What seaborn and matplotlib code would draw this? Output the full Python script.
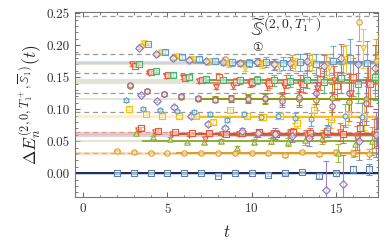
import numpy as np
import pandas as pd
import seaborn as sns
import matplotlib.pyplot as plt
from matplotlib.ticker import MultipleLocator, FormatStrFormatter

sns.set_theme(style='ticks')
plt.rcParams['font.family'] = ['cmr10', 'DejaVu Sans']
plt.rcParams['mathtext.fontset'] = 'cm'
plt.rcParams['axes.formatter.use_mathtext'] = True

# time slices
t_long = list(range(2, 18))
t_main = list(range(3, 18))
t_late = list(range(4, 18))

# typical error bars per time slice (t = 2..17)
err_low = [0.001, 0.001, 0.001, 0.001, 0.001, 0.001, 0.001, 0.001, 0.001, 0.002, 0.002, 0.002, 0.003, 0.004, 0.006, 0.008]
err_mid = [0.002, 0.002, 0.002, 0.002, 0.002, 0.003, 0.003, 0.003, 0.004, 0.005, 0.006, 0.008, 0.010, 0.014, 0.018, 0.022]
err_high = [0.002, 0.002, 0.002, 0.003, 0.003, 0.003, 0.004, 0.005, 0.006, 0.008, 0.010, 0.013, 0.017, 0.022, 0.030, 0.035]
err_purple = [0.002, 0.002, 0.002, 0.003, 0.003, 0.003, 0.004, 0.005, 0.006, 0.008, 0.010, 0.013, 0.045, 0.045, 0.030, 0.035]

# effective energies per operator
blue_sq = [0.000, 0.000, 0.000, 0.000, 0.000, 0.000, -0.004, 0.000, 0.000, -0.002, 0.000, 0.002, -0.004, 0.000, 0.006, 0.006]
orange_o = [0.035, 0.033, 0.032, 0.031, 0.031, 0.031, 0.032, 0.031, 0.031, 0.031, 0.028, 0.033, 0.030, 0.033, 0.031, 0.030]
green_tri = [0.063, 0.056, 0.054, 0.049, 0.049, 0.050, 0.040, 0.049, 0.050, 0.049, 0.052, 0.055, 0.031, 0.045, 0.050]
red_tri = [0.067, 0.065, 0.062, 0.060, 0.054, 0.062, 0.061, 0.060, 0.062, 0.063, 0.060, 0.058, 0.064, 0.055, 0.062]
red_sq = [0.070, 0.066, 0.064, 0.063, 0.063, 0.062, 0.063, 0.064, 0.062, 0.064, 0.063, 0.066, 0.061, 0.070, 0.064]
purple_d = [0.122, 0.113, 0.104, 0.090, 0.077, 0.070, 0.066, 0.063, 0.062, 0.058, 0.055, -0.026, -0.017, 0.050, 0.060]
yellow_sq = [0.101, 0.093, 0.090, 0.089, 0.090, 0.080, 0.098, 0.090, 0.088, 0.090, 0.078, 0.098, 0.085, 0.093, 0.090]
lblue_h = [0.114, 0.101, 0.099, 0.097, 0.095, 0.093, 0.083, 0.092, 0.088, 0.090, 0.086, 0.084, 0.070, 0.090, 0.088]
olive_o = [0.137, 0.128, 0.124, 0.119, 0.116, 0.116, 0.116, 0.117, 0.116, 0.117, 0.116, 0.115, 0.118, 0.112, 0.116]
magenta_o = [0.138, 0.129, 0.123, 0.120, 0.117, 0.115, 0.117, 0.116, 0.118, 0.113, 0.119, 0.125, 0.105, 0.125, 0.110]
red2_tri = [0.170, 0.157, 0.152, 0.150, 0.144, 0.135, 0.137, 0.140, 0.138, 0.136, 0.140, 0.133, 0.145, 0.125, 0.140]
red2_sq = [0.168, 0.158, 0.153, 0.149, 0.146, 0.151, 0.143, 0.142, 0.141, 0.143, 0.140, 0.147, 0.136, 0.150, 0.140]
green_sq = [0.171, 0.160, 0.154, 0.150, 0.147, 0.146, 0.145, 0.146, 0.145, 0.144, 0.146, 0.143, 0.148, 0.140, 0.150]
orange2_o = [0.1985, 0.187, 0.182, 0.178, 0.174, 0.178, 0.172, 0.173, 0.171, 0.174, 0.172, 0.170, 0.176, 0.237, 0.175]
purple2_d = [0.196, 0.186, 0.180, 0.177, 0.175, 0.173, 0.172, 0.174, 0.170, 0.172, 0.175, 0.168, 0.180, 0.170, 0.165]
yellow_tri = [0.204, 0.190, 0.183, 0.179, 0.176, 0.170, 0.165, 0.171, 0.167, 0.170, 0.174, 0.165, 0.178, 0.195, 0.180]
lblue_sq = [0.202, 0.189, 0.181, 0.178, 0.175, 0.173, 0.172, 0.174, 0.172, 0.173, 0.170, 0.176, 0.180, 0.172]

# non-interacting levels (dashed) and fitted energies (solid)
free_levels = [0.032, 0.064, 0.095, 0.126, 0.157, 0.187, 0.245]
fit_levels = [0.000, 0.031, 0.050, 0.059, 0.062, 0.0886, 0.116, 0.141, 0.145, 0.1715, 0.173]
fit_start = [-0.5, 5.5, 3.5, 8.0, 5.5, 6.5, 6.8, 7.0, 7.0, 6.5, 6.5]

# style: (data, times, errors, colour, marker, offset)
series = [
    (blue_sq, t_long, err_low, '#5E81B5', 's', 0.0),
    (orange_o, t_long, err_low, '#E19C24', 'o', 0.0),
    (green_tri, t_main, err_mid, '#8FB032', '^', 0.15),
    (red_tri, t_main, err_mid, '#EB6235', 'v', 0.25),
    (red_sq, t_main, err_mid, '#E95536', 's', 0.45),
    (purple_d, t_main, err_purple, '#8778B3', 'D', 0.4),
    (yellow_sq, t_main, err_mid, '#FFBF00', 's', -0.3),
    (lblue_h, t_main, err_mid, '#5D9EC7', 'h', -0.45),
    (olive_o, t_main, err_high, '#929600', 'o', -0.2),
    (magenta_o, t_main, err_high, '#A5609D', 'o', -0.2),
    (red2_tri, t_main, err_high, '#E95536', 'v', -0.1),
    (red2_sq, t_main, err_high, '#EB6235', 's', 0.05),
    (green_sq, t_main, err_high, '#47B66D', 's', 0.3),
    (orange2_o, t_main, err_high, '#E19C24', 'o', 0.4),
    (purple2_d, t_main, err_high, '#8778B3', 'D', 0.3),
    (yellow_tri, t_main, err_high, '#FFBF00', 'v', 0.6),
    (lblue_sq, t_late, err_high, '#5D9EC7', 's', -0.15),
]
fit_colors = ['#1b2a5c', '#E19C24', '#8FB032', '#8778B3', '#D9542B', '#FFBF00', '#929600', '#F08A6A', '#47B66D', '#C9A27E', '#5D9EC7']
band_colors = ['#9bb3d9', '#F3C98A', '#C8DC98', '#B9AEDA', '#F2A68E', '#FFE08A', '#D9CDB0', '#F6BFA8', '#A8DDB8', '#DCC6AE', '#AFD0E6']

xmin, xmax = -0.5, 17.5

fig = plt.figure(figsize=(3.9, 2.48), dpi=100)
ax = fig.add_axes([0.192, 0.206, 0.777, 0.746])

for lv in free_levels:
    ax.axhline(lv, color='#9a9a9a', lw=0.9, ls=(0, (4, 3)), zorder=1)

for lv, ts, fc, bc in zip(fit_levels, fit_start, fit_colors, band_colors):
    ax.fill_between([xmin, xmax], lv - 0.002, lv + 0.002, color=bc, alpha=0.55, lw=0, zorder=1.5)
    ax.hlines(lv, ts, xmax, color=fc, lw=1.4, zorder=2)

for vals, ts, errs, col, mk, off in series:
    df = pd.DataFrame({'t': np.array(ts) + off, 'dE': vals,
                       'err': [errs[t - 2] for t in ts]})
    ax.errorbar(df['t'], df['dE'], yerr=df['err'], fmt='none', ecolor=col,
                elinewidth=0.8, capsize=2, capthick=0.8, alpha=0.85, zorder=3)
    sns.scatterplot(data=df, x='t', y='dE', marker=mk, s=15, facecolor=(1, 1, 1, 0.5),
                    edgecolor=col, linewidth=0.8, ax=ax, zorder=4, legend=False)

ax.set_xlim(xmin, xmax)
ax.set_ylim(-0.037, 0.252)
ax.xaxis.set_major_locator(MultipleLocator(5))
ax.xaxis.set_minor_locator(MultipleLocator(1))
ax.yaxis.set_major_locator(MultipleLocator(0.05))
ax.yaxis.set_minor_locator(MultipleLocator(0.01))
ax.yaxis.set_major_formatter(FormatStrFormatter('%.2f'))
ax.tick_params(which='both', direction='in', top=True, right=True, color='#666666', labelsize=9.5, labelcolor='#333333')
ax.tick_params(which='major', length=3.5, width=0.7)
ax.tick_params(which='minor', length=1.8, width=0.6)
for sp in ax.spines.values():
    sp.set_color('#777777')
    sp.set_linewidth(0.8)

ax.set_xlabel(r'$t$', fontsize=12, labelpad=6)
ax.set_ylabel(r'$\Delta E_n^{(2,0,T_1^+,\overline{\mathbb{S}}_1)}(t)$', fontsize=12.5, labelpad=3)

ax.text(9.9, 0.226, r'$\widetilde{\mathbb{S}}^{(2,0,T_1^+)}$', fontsize=14, va='center', ha='left')
ax.text(10.05, 0.197, '\u2460', fontsize=8.5, va='center', ha='left', family=['DejaVu Sans'])

fig.savefig('out.png', dpi=100)
